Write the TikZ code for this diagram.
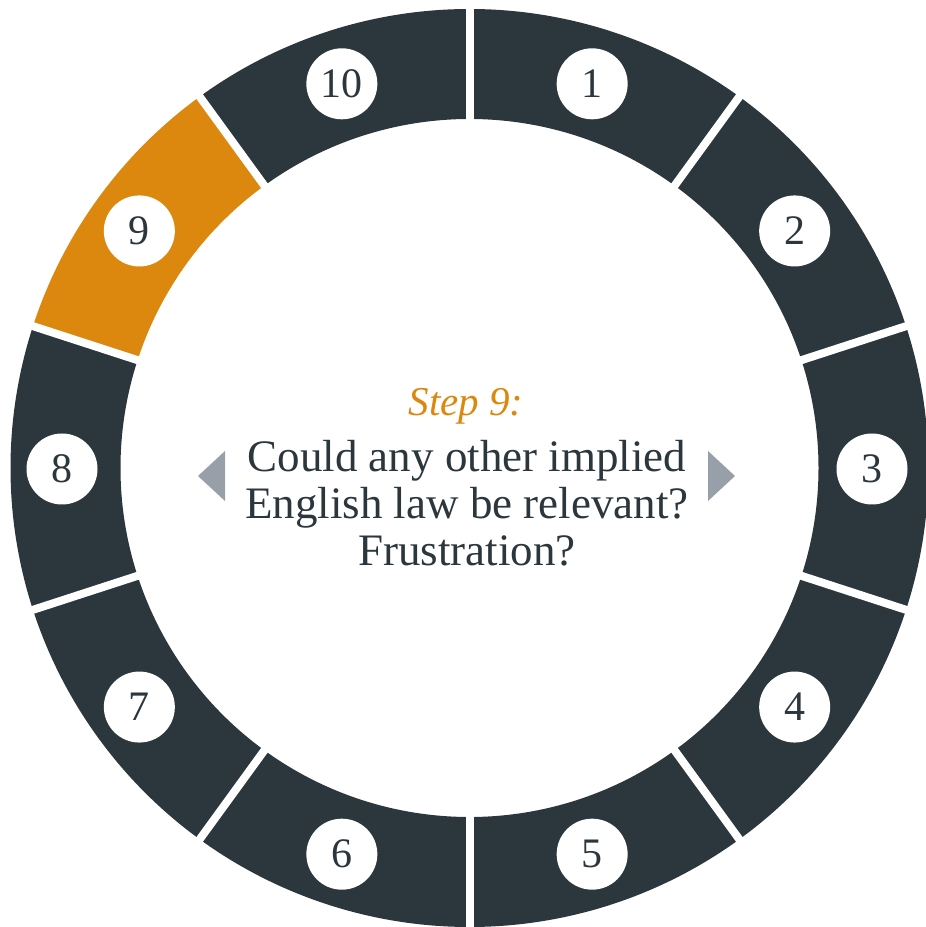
\documentclass[tikz,border=0pt]{standalone}
\usepackage{fontspec}
\setmainfont{Liberation Serif}
\definecolor{ringdark}{HTML}{2C363D}
\definecolor{ringorange}{HTML}{DC870E}
\definecolor{arrowgray}{HTML}{97A0A8}
\tikzset{
  segdark/.style={fill=ringdark},
  segorange/.style={fill=ringorange},
  gapline/.style={draw=white,line width=8pt},
  numcircle/.style={circle,fill=white,minimum size=71pt,inner sep=0pt,text=ringdark,font=\fontsize{42}{42}\selectfont},
  maintext/.style={anchor=base,text=ringdark,font=\fontsize{45}{45}\selectfont,inner sep=0pt},
  steptext/.style={anchor=base,text=ringorange,font=\fontsize{41}{41}\selectfont\itshape,inner sep=0pt},
  navarrow/.style={fill=arrowgray}
}
\begin{document}
\begin{tikzpicture}[x=1pt,y=1pt]
\useasboundingbox (0,0) rectangle (926,927);
\begin{scope}[shift={(469.5,927-468)}]
  \foreach \i in {1,...,10}{
    \pgfmathsetmacro{\aa}{90-36*(\i-1)}
    \pgfmathsetmacro{\ab}{90-36*\i}
    \ifnum\i=9
      \fill[segorange] (\aa:459) arc[start angle=\aa,end angle=\ab,radius=459] -- (\ab:349) arc[start angle=\ab,end angle=\aa,radius=349] -- cycle;
    \else
      \fill[segdark] (\aa:459) arc[start angle=\aa,end angle=\ab,radius=459] -- (\ab:349) arc[start angle=\ab,end angle=\aa,radius=349] -- cycle;
    \fi
  }
  \foreach \i in {0,...,9}{
    \draw[gapline] (90-36*\i:340) -- (90-36*\i:470);
  }
\end{scope}
\begin{scope}[shift={(467,927-469)}]
  \foreach \i in {1,...,10}{
    \node[numcircle] (n\i) at (72-36*\i+36:405) {\i};
  }
\end{scope}
\node[steptext] (step) at (466,927-416) {Step 9:};
\node[maintext] (l1) at (467,927-472) {Could any other implied};
\node[maintext] (l2) at (467,927-519) {English law be relevant?};
\node[maintext] (l3) at (467,927-566) {Frustration?};
\fill[navarrow] (198,927-476) -- (225,927-451) -- (225,927-501) -- cycle;
\fill[navarrow] (735,927-476) -- (708,927-451) -- (708,927-501) -- cycle;
\end{tikzpicture}
\end{document}
